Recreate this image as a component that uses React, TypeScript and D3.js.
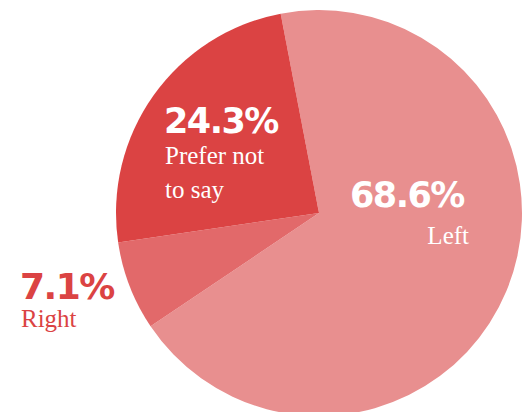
import React from "react";
import * as d3 from "d3";

const categories = ["Left", "Right", "Prefer not to say"];
const values = [68.6, 7.1, 24.3];
const colors = ["#e88f8f", "#e2696a", "#db4343"];

const W = 529;
const H = 412;
const cx = 319;
const cy = 213;
const R = 203;

export default function App() {
  const start = -0.19;
  const pie = d3
    .pie<number>()
    .sort(null)
    .value((d) => d)
    .startAngle(start)
    .endAngle(start + Math.PI * 2);
  const arcs = pie(values);
  const arc = d3.arc<d3.PieArcDatum<number>>().innerRadius(0).outerRadius(R);

  const pctFont = "'DejaVu Sans', sans-serif";
  const serif = "'Liberation Serif', 'Times New Roman', serif";

  return (
    <svg
      width={W}
      height={H}
      style={{ position: "absolute", left: 0, top: 0, background: "#fff" }}
    >
      <g transform={`translate(${cx},${cy})`}>
        {arcs.map((a, i) => (
          <path key={categories[i]} d={arc(a) || ""} fill={colors[i]} />
        ))}
      </g>
      {/* Prefer not to say */}
      <text x={164} y={133} fill="#fff" fontFamily={pctFont} fontWeight={700} fontSize={35} letterSpacing={-1.5}>
        {values[2].toFixed(1)}%
      </text>
      <text x={165} y={164} fill="#fff" fontFamily={serif} fontSize={25}>Prefer not</text>
      <text x={165} y={198} fill="#fff" fontFamily={serif} fontSize={25}>to say</text>
      {/* Left */}
      <text x={350} y={207} fill="#fff" fontFamily={pctFont} fontWeight={700} fontSize={35} letterSpacing={-1.5}>
        {values[0].toFixed(1)}%
      </text>
      <text x={469} y={244} fill="#fff" fontFamily={serif} fontSize={25} textAnchor="end">{categories[0]}</text>
      {/* Right */}
      <text x={20} y={299} fill="#db4343" fontFamily={pctFont} fontWeight={700} fontSize={36} letterSpacing={-1.5}>
        {values[1].toFixed(1)}%
      </text>
      <text x={21} y={327} fill="#db4343" fontFamily={serif} fontSize={25}>{categories[1]}</text>
    </svg>
  );
}
